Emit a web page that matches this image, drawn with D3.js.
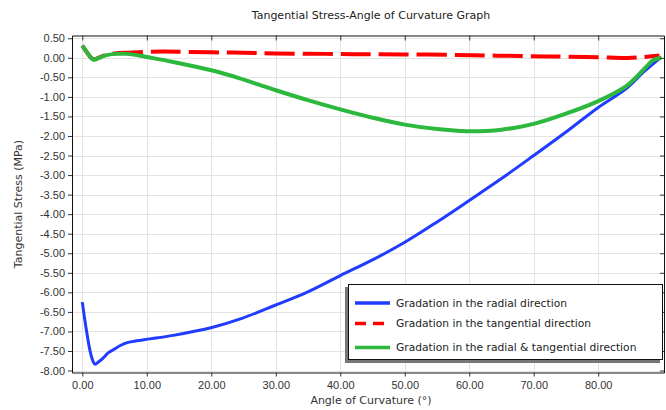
<!DOCTYPE html>
<html>
<head>
<meta charset="utf-8">
<script src="https://cdn.jsdelivr.net/npm/d3@7"></script>
<style>
  body { margin: 0; background: #fff; }
  svg { display: block; font-family: "DejaVu Sans", sans-serif; }
</style>
</head>
<body>
<svg id="chart" width="666" height="410"></svg>
<script>
// Data
const radialAngle = [0, 0.4, 0.9, 1.3, 1.7, 2.0, 2.5, 3.3, 4.0, 4.8, 5.9, 7.1, 8.4, 10.5, 14.1, 20.1, 24.5, 29.9, 34.8, 40, 45, 50, 55, 60, 65, 70, 75, 80, 84.4, 87, 89.5];
const radialStress = [-6.25, -6.72, -7.23, -7.57, -7.78, -7.84, -7.78, -7.67, -7.55, -7.47, -7.36, -7.28, -7.24, -7.19, -7.10, -6.90, -6.68, -6.33, -6.00, -5.57, -5.17, -4.72, -4.20, -3.65, -3.09, -2.50, -1.90, -1.27, -0.78, -0.37, -0.02];

const tangAngle = [0, 0.7, 1.25, 1.8, 2.5, 3.6, 5, 7, 10, 12.5, 20, 25, 30, 38, 44, 50, 57, 62.5, 68, 72, 75, 80, 84.5, 87, 89.5];
const tangStress = [0.31, 0.14, 0.02, -0.04, 0.0, 0.07, 0.11, 0.13, 0.15, 0.16, 0.14, 0.13, 0.11, 0.10, 0.09, 0.085, 0.075, 0.06, 0.045, 0.035, 0.03, 0.015, -0.005, 0.02, 0.06];

const bothAngle = [0, 0.73, 1.25, 1.77, 2.5, 3.6, 5.1, 6.9, 8.75, 10, 13.9, 20, 24.3, 27.6, 30, 35.1, 40, 45.2, 50, 55, 58.6, 60, 65, 70, 75, 80, 84.4, 87.5, 88.5, 89.8];
const bothStress = [0.31, 0.14, 0.02, -0.05, -0.01, 0.06, 0.10, 0.10, 0.06, 0.02, -0.10, -0.32, -0.52, -0.70, -0.83, -1.09, -1.32, -1.54, -1.71, -1.82, -1.87, -1.88, -1.84, -1.69, -1.43, -1.11, -0.72, -0.22, -0.06, 0.0];

const xTicks = [0, 10, 20, 30, 40, 50, 60, 70, 80];
const yTicks = [0.5, 0, -0.5, -1, -1.5, -2, -2.5, -3, -3.5, -4, -4.5, -5, -5.5, -6, -6.5, -7, -7.5, -8];

const seriesNames = [
  'Gradation in the radial direction',
  'Gradation in the tangential direction',
  'Gradation in the radial & tangential direction'
];
const seriesColors = ['#1f3cff', '#ff0000', '#2cb83c'];

const fmt = d => (Math.abs(d) < 1e-9 ? 0 : d).toFixed(2);

const svg = d3.select('#chart');

const pLeft = 72, pRight = 664, pTop = 35.5, pBottom = 372.5;

const x = d3.scaleLinear()
  .domain([-1.6, 90.2])
  .range([pLeft, pRight]);

const y = d3.scaleLinear()
  .domain([-8.05, 0.57])
  .range([pBottom, pTop]);

// Title
svg.append('text')
  .attr('x', 371)
  .attr('y', 19)
  .attr('text-anchor', 'middle')
  .attr('font-size', 11)
  .attr('fill', '#222')
  .text('Tangential Stress-Angle of Curvature Graph');

// Grid
const grid = svg.append('g').attr('stroke', '#e3e3e3').attr('stroke-width', 1);
grid.selectAll('.gx')
  .data(xTicks)
  .join('line')
  .attr('x1', d => Math.round(x(d)) + 0.5)
  .attr('x2', d => Math.round(x(d)) + 0.5)
  .attr('y1', pTop)
  .attr('y2', pBottom);
grid.selectAll('.gy')
  .data(yTicks)
  .join('line')
  .attr('x1', pLeft)
  .attr('x2', pRight)
  .attr('y1', d => Math.round(y(d)) + 0.5)
  .attr('y2', d => Math.round(y(d)) + 0.5);

// Curves
const series = [
  { a: radialAngle, s: radialStress, w: 3, dash: null },
  { a: tangAngle, s: tangStress, w: 4, dash: '30,8' },
  { a: bothAngle, s: bothStress, w: 4, dash: null }
];
const line = d3.line()
  .x(d => x(d[0]))
  .y(d => y(d[1]))
  .curve(d3.curveCatmullRom.alpha(0.5));

const curves = svg.append('g');
series.forEach((sr, i) => {
  const pts = sr.a.map((v, j) => [v, sr.s[j]]);
  curves.append('path')
    .datum(pts)
    .attr('fill', 'none')
    .attr('stroke', seriesColors[i])
    .attr('stroke-width', sr.w)
    .attr('stroke-dasharray', sr.dash)
    .attr('d', line);
});

// Axes
svg.append('g')
  .attr('transform', 'translate(0,' + pBottom + ')')
  .call(d3.axisBottom(x).tickValues(xTicks).tickFormat(fmt).tickSize(4).tickSizeOuter(0))
  .call(g => g.selectAll('text').attr('font-size', 11).attr('fill', '#333').attr('dy', '0.9em'));

svg.append('g')
  .attr('transform', 'translate(' + pLeft + ',0)')
  .call(d3.axisLeft(y).tickValues(yTicks).tickFormat(fmt).tickSize(4).tickSizeOuter(0))
  .call(g => g.selectAll('text').attr('font-size', 11).attr('fill', '#333'));

svg.append('g')
  .attr('transform', 'translate(0,' + pTop + ')')
  .call(d3.axisBottom(x).tickValues(xTicks).tickFormat('').tickSize(5).tickSizeOuter(0));

svg.append('g')
  .attr('transform', 'translate(' + pRight + ',0)')
  .call(d3.axisLeft(y).tickValues(yTicks).tickFormat('').tickSize(4).tickSizeOuter(0));

svg.selectAll('.domain').attr('stroke', '#111');
svg.selectAll('.tick line').attr('stroke', '#333');

// Axis labels
svg.append('text')
  .attr('x', 371)
  .attr('y', 404)
  .attr('text-anchor', 'middle')
  .attr('font-size', 11)
  .attr('fill', '#333')
  .text('Angle of Curvature (°)');

svg.append('text')
  .attr('transform', 'translate(22,' + ((pTop + pBottom) / 2) + ') rotate(-90)')
  .attr('text-anchor', 'middle')
  .attr('font-size', 11)
  .attr('fill', '#333')
  .text('Tangential Stress (MPa)');

// Legend
const lg = svg.append('g').attr('transform', 'translate(348,284)');
lg.append('rect')
  .attr('x', -3).attr('y', 3)
  .attr('width', 315).attr('height', 76)
  .attr('fill', '#777');
lg.append('rect')
  .attr('x', 0.5).attr('y', 0.5)
  .attr('width', 314).attr('height', 75)
  .attr('fill', '#fff')
  .attr('stroke', '#111');

const rows = [19, 39.5, 63.5];
seriesNames.forEach((name, i) => {
  lg.append('line')
    .attr('x1', 7).attr('x2', 42)
    .attr('y1', rows[i]).attr('y2', rows[i])
    .attr('stroke', seriesColors[i])
    .attr('stroke-width', 3.5)
    .attr('stroke-dasharray', i === 1 ? '11,7' : null);
  lg.append('text')
    .attr('x', 48)
    .attr('y', rows[i])
    .attr('dy', '0.35em')
    .attr('font-size', 10.7)
    .attr('fill', '#222')
    .text(name);
});
</script>
</body>
</html>
